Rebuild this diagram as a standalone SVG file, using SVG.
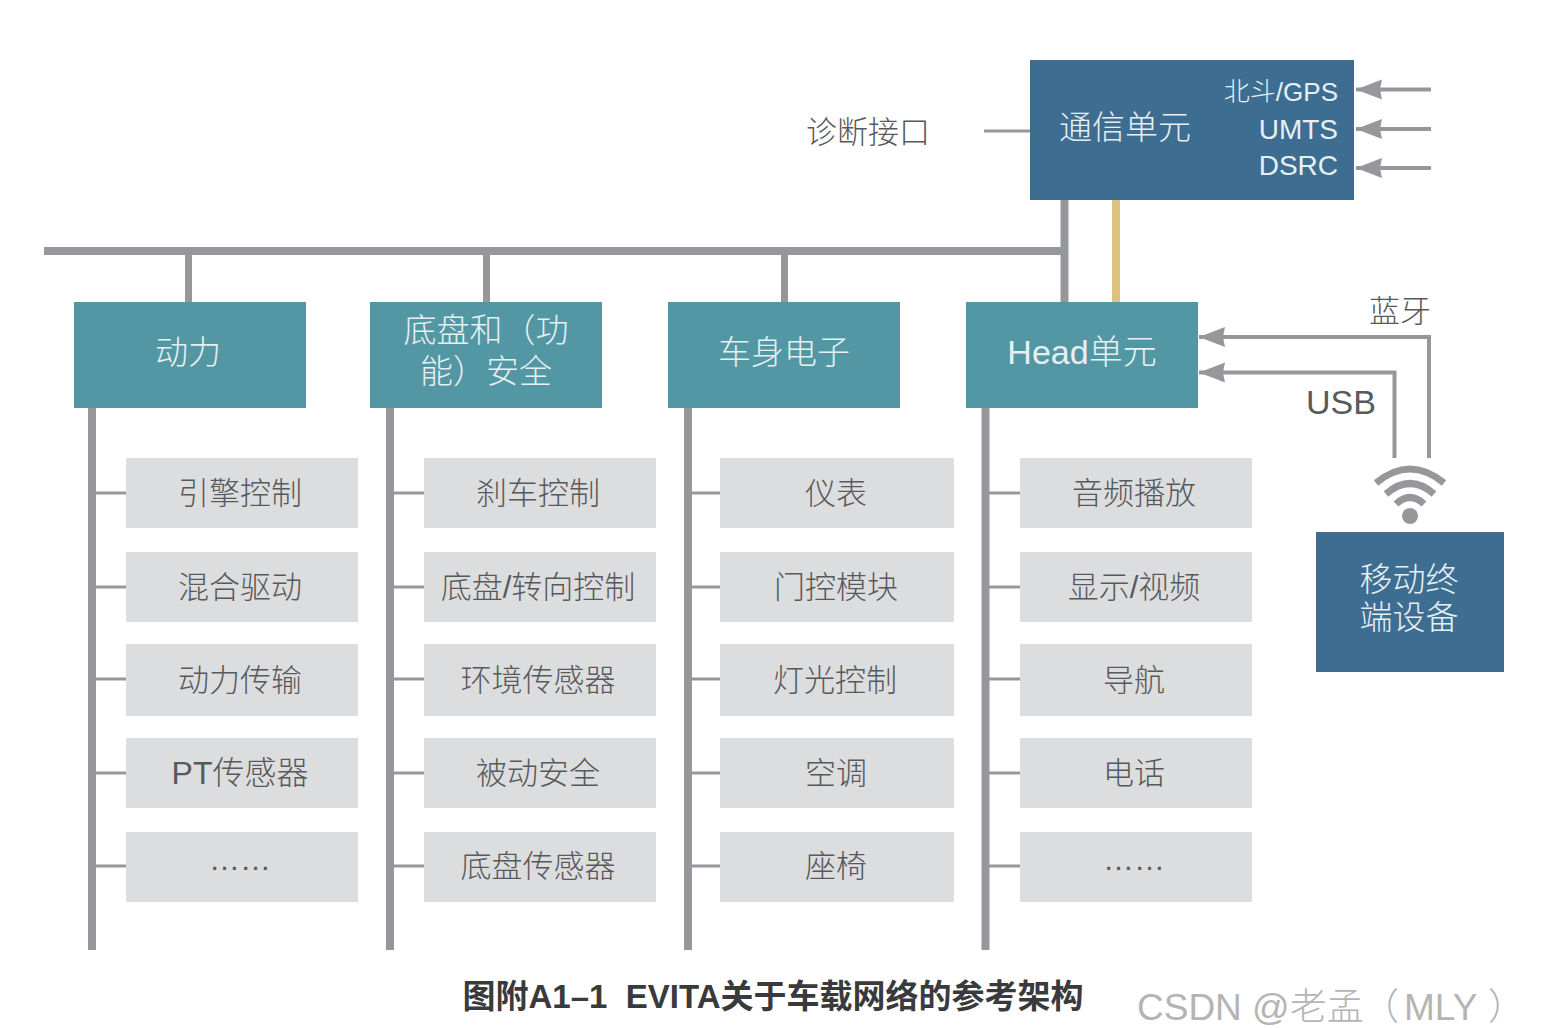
<svg xmlns="http://www.w3.org/2000/svg" width="1568" height="1028" viewBox="0 0 1568 1028">
<defs>
<marker id="arr" markerUnits="userSpaceOnUse" markerWidth="28" markerHeight="24" refX="27" refY="12" orient="auto" viewBox="0 0 28 24"><path d="M27 12 L1 2 L3 12 L1 22 Z" fill="#96979b" stroke="none"/></marker>
</defs>
<style>
text{font-family:"Noto Sans CJK SC","Liberation Sans",sans-serif;text-anchor:middle}
.g{fill:#dcddde}.t{fill:#5397a4}.b{fill:#3e6d92}
.lg{font-size:31px;fill:#58595b;font-weight:300}
.lt{font-size:33px;fill:#e6f0f2;font-weight:300}
.e{font-family:"Liberation Sans","Noto Sans CJK SC",sans-serif}
.s{stroke:#96979b;fill:none}
</style>
<rect width="1568" height="1028" fill="#fff"/>
<g id="connectors" class="s">
<path d="M44 251H1064" stroke-width="8"/>
<path d="M1064.500 200V302" stroke-width="8"/>
<path d="M188.500 251V302M486.500 251V302M784.500 251V302" stroke-width="7"/>
<path d="M1116 200V302" stroke="#dcc27e" stroke-width="8"/>
<path d="M984 131H1030" stroke-width="3"/>
<path d="M92 407V950M390 407V950M688 407V950M985.500 407V950" stroke-width="8"/>
<path d="M92 493H126M92 587H126M92 679H126M92 773H126M92 866H126M390 493H424M390 587H424M390 679H424M390 773H424M390 866H424M688 493H720M688 587H720M688 679H720M688 773H720M688 866H720M985 493H1020M985 587H1020M985 679H1020M985 773H1020M985 866H1020" stroke-width="3"/>
<path d="M1431 89.500H1356" stroke-width="4" marker-end="url(#arr)"/>
<path d="M1431 129H1356" stroke-width="4" marker-end="url(#arr)"/>
<path d="M1431 168H1356" stroke-width="4" marker-end="url(#arr)"/>
<path d="M1429 458V337H1199" stroke-width="4" marker-end="url(#arr)"/>
<path d="M1394.500 458V372.500H1199" stroke-width="4" marker-end="url(#arr)"/>
<circle cx="1410" cy="516" r="8" fill="#96979b" stroke="none"/>
<path d="M1376 483Q1410 455 1444 483" stroke-width="7"/>
<path d="M1386 494Q1410 473 1434 494" stroke-width="7"/>
<path d="M1396 504Q1410 491 1424 504" stroke-width="7"/>
</g>
<g id="comm"><rect class="b" x="1030" y="60" width="324" height="140"/>
<text x="1125" y="139" class="lt" style="font-size:33px">通信单元</text>
<text x="1338" y="101" class="lt e" style="font-size:26px;text-anchor:end">北斗/GPS</text>
<text x="1338" y="139" class="lt e" style="font-size:28px;text-anchor:end">UMTS</text>
<text x="1338" y="175" class="lt e" style="font-size:28px;text-anchor:end">DSRC</text></g>
<g id="diag"><text x="868" y="143" class="lg">诊断接口</text></g>
<g id="power"><rect class="t" x="74" y="302" width="232" height="106"/><text x="188" y="364" class="lt">动力</text></g>
<g id="chassis"><rect class="t" x="370" y="302" width="232" height="106"/><text x="486" y="342" class="lt e">底盘和（功</text><text x="486" y="383" class="lt e">能）安全</text></g>
<g id="body"><rect class="t" x="668" y="302" width="232" height="106"/><text x="784" y="364" class="lt">车身电子</text></g>
<g id="head"><rect class="t" x="966" y="302" width="232" height="106"/><text x="1082" y="364" class="lt e" style="font-size:34px">Head单元</text></g>
<g id="bt"><text x="1400" y="322" class="lg">蓝牙</text></g>
<g id="usb"><text x="1341" y="414" class="lg e" style="font-size:34px">USB</text></g>
<g id="mobile"><rect class="b" x="1316" y="532" width="188" height="140"/><text x="1409" y="591" class="lt e">移动终</text><text x="1409" y="629" class="lt e">端设备</text></g>
<g id="c1">
<g id="n1a"><rect class="g" x="126" y="458" width="232" height="70"/><text x="240" y="504" class="lg">引擎控制</text></g>
<g id="n1b"><rect class="g" x="126" y="552" width="232" height="70"/><text x="240" y="598" class="lg">混合驱动</text></g>
<g id="n1c"><rect class="g" x="126" y="644" width="232" height="72"/><text x="240" y="691" class="lg">动力传输</text></g>
<g id="n1d"><rect class="g" x="126" y="738" width="232" height="70"/><text x="240" y="784" class="lg e" style="font-size:32px">PT传感器</text></g>
<g id="n1e"><rect class="g" x="126" y="832" width="232" height="70"/><text x="240" y="870" class="lg e">……</text></g>
</g>
<g id="c2">
<g id="n2a"><rect class="g" x="424" y="458" width="232" height="70"/><text x="538" y="504" class="lg">刹车控制</text></g>
<g id="n2b"><rect class="g" x="424" y="552" width="232" height="70"/><text x="538" y="598" class="lg e">底盘/转向控制</text></g>
<g id="n2c"><rect class="g" x="424" y="644" width="232" height="72"/><text x="538" y="691" class="lg">环境传感器</text></g>
<g id="n2d"><rect class="g" x="424" y="738" width="232" height="70"/><text x="538" y="784" class="lg">被动安全</text></g>
<g id="n2e"><rect class="g" x="424" y="832" width="232" height="70"/><text x="538" y="877" class="lg">底盘传感器</text></g>
</g>
<g id="c3">
<g id="n3a"><rect class="g" x="720" y="458" width="234" height="70"/><text x="836" y="504" class="lg">仪表</text></g>
<g id="n3b"><rect class="g" x="720" y="552" width="234" height="70"/><text x="836" y="598" class="lg">门控模块</text></g>
<g id="n3c"><rect class="g" x="720" y="644" width="234" height="72"/><text x="835" y="691" class="lg">灯光控制</text></g>
<g id="n3d"><rect class="g" x="720" y="738" width="234" height="70"/><text x="836" y="784" class="lg">空调</text></g>
<g id="n3e"><rect class="g" x="720" y="832" width="234" height="70"/><text x="836" y="877" class="lg">座椅</text></g>
</g>
<g id="c4">
<g id="n4a"><rect class="g" x="1020" y="458" width="232" height="70"/><text x="1134" y="504" class="lg">音频播放</text></g>
<g id="n4b"><rect class="g" x="1020" y="552" width="232" height="70"/><text x="1134" y="598" class="lg e">显示/视频</text></g>
<g id="n4c"><rect class="g" x="1020" y="644" width="232" height="72"/><text x="1134" y="691" class="lg">导航</text></g>
<g id="n4d"><rect class="g" x="1020" y="738" width="232" height="70"/><text x="1134" y="784" class="lg">电话</text></g>
<g id="n4e"><rect class="g" x="1020" y="832" width="232" height="70"/><text x="1134" y="870" class="lg e">……</text></g>
</g>
<text x="773" y="1008" class="e" style="font-size:33px;font-weight:700;fill:#3a3a3c;white-space:pre">图附A1–1  EVITA关于车载网络的参考架构</text>
<text x="1137" y="1020" class="e" style="font-size:37px;fill:#b4b4b4;font-weight:300;text-anchor:start">CSDN @老孟<tspan x="1362">（</tspan><tspan x="1404">MLY</tspan><tspan x="1488">）</tspan></text>
</svg>
